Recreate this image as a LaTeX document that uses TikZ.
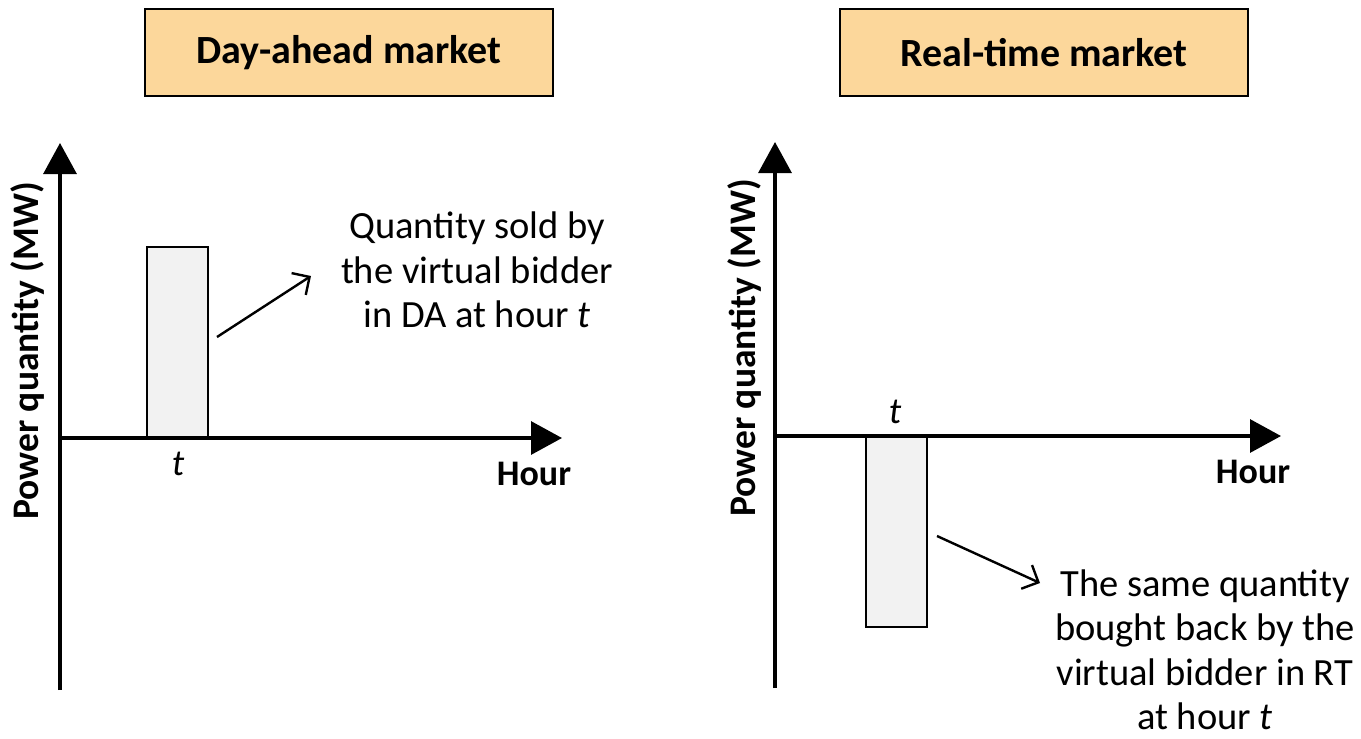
\documentclass[tikz,border=0pt]{standalone}
\usepackage{fontspec}
\setmainfont{Carlito}
\usetikzlibrary{arrows.meta}

\definecolor{titlefill}{RGB}{252,215,155}
\definecolor{barfill}{RGB}{242,242,242}

\begin{document}
\begin{tikzpicture}[x=1pt,y=-1pt,
  titlebox/.style={draw=black, line width=1.8pt, fill=titlefill,
    minimum width=408pt, minimum height=87pt, inner sep=0pt,
    font=\fontsize{40}{46}\selectfont\bfseries},
  barbox/.style={draw=black, line width=2.4pt, fill=barfill,
    minimum width=61pt, inner sep=0pt},
  axis/.style={line width=3.2pt, -{Triangle[length=31pt,width=33pt]}},
  callout/.style={line width=2.4pt, -{Straight Barb[length=13pt,width=26pt,line width=2.4pt]}},
  note/.style={align=center, font=\fontsize{38.5}{44.5}\selectfont},
  axlabel/.style={font=\fontsize{36}{42}\selectfont\bfseries},
  ylabel/.style={font=\fontsize{37.5}{42}\selectfont\bfseries, rotate=90},
  ticklabel/.style={font=\fontsize{37}{42}\selectfont\itshape}]
\useasboundingbox (0,0) rectangle (1361,739);

% ---------- Day-ahead panel ----------
\node[titlebox] (tda) at (349,52.5) {Day-ahead market};

\coordinate (da0) at (60,438);
\coordinate (dabot) at (60,690);
\coordinate (datop) at (60,143);
\coordinate (daend) at (562,438);
\draw[axis] (dabot) -- (datop);
\draw[axis] (da0) -- (daend);

\node[barbox, minimum height=190pt, anchor=south] (bda) at (177.5,438) {};
\node[ticklabel] (tda1) at (178,464) {t};
\node[axlabel] (hda) at (534,474) {Hour};
\node[ylabel] (yda) at (28,351) {Power quantity (MW)};

\node[note] (qda) at (477,270) {Quantity sold by\\the virtual bidder\\in DA at hour \textit{t}};
\coordinate (ada1) at (217,337);
\coordinate (ada2) at (311,276);
\draw[callout] (ada1) -- (ada2);

% ---------- Real-time panel ----------
\node[titlebox] (trt) at (1044,52.5) {Real-time market};

\coordinate (rt0) at (775,436);
\coordinate (rtbot) at (775,688);
\coordinate (rttop) at (775,142);
\coordinate (rtend) at (1281,436);
\draw[axis] (rtbot) -- (rttop);
\draw[axis] (rt0) -- (rtend);

\node[barbox, minimum height=190pt, anchor=north] (brt) at (896.5,436) {};
\node[ticklabel] (trt1) at (895,412) {t};
\node[axlabel] (hrt) at (1253,472) {Hour};
\node[ylabel] (yrt) at (745,348) {Power quantity (MW)};

\node[note] (qrt) at (1205,650) {The same quantity\\bought back by the\\virtual bidder in RT\\at hour \textit{t}};
\coordinate (art1) at (937,536);
\coordinate (art2) at (1040,583);
\draw[callout] (art1) -- (art2);
\end{tikzpicture}
\end{document}
